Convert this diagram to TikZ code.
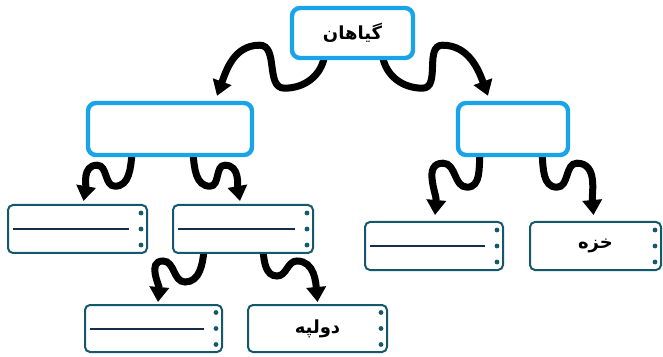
\documentclass[tikz,border=0pt]{standalone}
\usepackage{fontspec}
\newfontfamily\arabicfont[Script=Arabic]{DejaVu Sans}
\TeXXeTstate=1
\usetikzlibrary{arrows.meta,calc}
\definecolor{bluebox}{RGB}{25,163,232}
\definecolor{tealline}{RGB}{20,88,108}
\definecolor{navyline}{RGB}{20,45,75}
\pgfdeclarelayer{bg}
\pgfsetlayers{bg,main}
\begin{document}
\begin{tikzpicture}[x=1pt,y=1pt,
  mainbox/.style={draw=bluebox, line width=4.4pt, rounded corners=8pt, fill=white, inner sep=0pt,
    font=\arabicfont\bfseries\fontsize{18}{21}\selectfont},
  leafbox/.style={draw=tealline, line width=2pt, rounded corners=5pt, fill=white, inner sep=0pt,
    minimum height=48pt, font=\arabicfont\bfseries\fontsize{18}{21}\selectfont},
  wave/.style={line width=7pt, black, -{Triangle[length=15pt,width=19pt]}},
  dot/.style={fill=tealline, draw=none},
  midline/.style={draw=navyline, line width=2pt}
]
\useasboundingbox (0,0) rectangle (663,356);

% main boxes
\node[mainbox, minimum width=121pt, minimum height=50pt] (top) at (352.5,323) {\beginR گیاهان\endR};
\node[mainbox, minimum width=164pt, minimum height=52pt] (lm) at (170,227) {};
\node[mainbox, minimum width=110pt, minimum height=52pt] (rm) at (513,227) {};

% leaf boxes
\node[leafbox, minimum width=139pt] (b1) at (77.5,127) {};
\node[leafbox, minimum width=140pt] (b2) at (243,127) {};
\node[leafbox, minimum width=138pt] (b3) at (434,110) {};
\node[leafbox, minimum width=131pt] (b4) at (595.5,110) {\beginR خزه\endR};
\node[leafbox, minimum width=137pt, minimum height=47pt] (b5) at (153.5,27.5) {};
\node[leafbox, minimum width=139pt, minimum height=47pt] (b6) at (317.5,27.5) {\beginR دولپه\endR};

% dots on leaf boxes
\foreach \n in {b1,b2,b3,b4,b5,b6}{
  \fill[dot] ($(\n.east)+(-7,16)$) circle (2.4pt);
  \fill[dot] ($(\n.east)+(-7,0)$) circle (2.4pt);
  \fill[dot] ($(\n.east)+(-7,-16)$) circle (2.4pt);
}
% middle lines
\foreach \n in {b1,b2,b3,b5}{
  \draw[midline] ($(\n.west)+(6,0)$) -- ($(\n.east)+(-19,0)$);
}

% wavy arrows
\begin{pgfonlayer}{bg}
\draw[wave] ($(top.south)+(-28,4)$) to[out=-100,in=0] ++(-40,-32)
  to[out=180,in=0] ++(-25,43) to[out=180,in=70] ($(lm.north)+(47,5)$);
\draw[wave] ($(top.south)+(30,4)$) to[out=-80,in=180] ++(40,-32)
  to[out=0,in=180] ++(20,43) to[out=0,in=110] ($(rm.north)+(-25,5)$);

\draw[wave] ($(lm.south)+(-38,4)$) to[out=-95,in=0] ++(-17,-33)
  to[out=180,in=0] ++(-18,21) to[out=180,in=80] ($(b1.north)+(6,3)$);
\draw[wave] ($(lm.south)+(23,4)$) to[out=-85,in=180] ++(17,-33)
  to[out=0,in=180] ++(15,21) to[out=0,in=100] ($(b2.north)+(-3,3)$);

\draw[wave] ($(rm.south)+(-33,4)$) to[out=-95,in=0] ++(-13,-34)
  to[out=180,in=0] ++(-24,24) to[out=180,in=85] ($(b3.north)+(1,6)$);
\draw[wave] ($(rm.south)+(29,4)$) to[out=-85,in=180] ++(15,-34)
  to[out=0,in=180] ++(20,24) to[out=0,in=95] ($(b4.north)+(-2,6)$);

\draw[wave] ($(b2.south)+(-39,4)$) to[out=-95,in=0] ++(-19,-32)
  to[out=180,in=0] ++(-22,21) to[out=180,in=85] ($(b5.north)+(4.5,2)$);
\draw[wave] ($(b2.south)+(20,4)$) to[out=-85,in=180] ++(14,-26)
  to[out=0,in=180] ++(20,15) to[out=0,in=95] ($(b6.north)+(0,2)$);
\end{pgfonlayer}
\end{tikzpicture}
\end{document}
